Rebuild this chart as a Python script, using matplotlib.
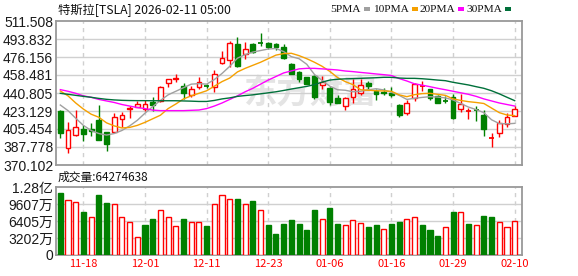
import numpy as np
import matplotlib
matplotlib.use('Agg')
import matplotlib.pyplot as plt
from matplotlib.patches import Rectangle

plt.rcParams['font.family'] = ['Liberation Sans', 'Noto Sans CJK SC', 'DejaVu Sans']

# ---------------- data ----------------
dates = ['11-13', '11-14', '11-17', '11-18', '11-19', '11-20', '11-21', '11-24', '11-25', '11-26',
         '11-28', '12-01', '12-02', '12-03', '12-04', '12-05', '12-08', '12-09', '12-10', '12-11',
         '12-12', '12-15', '12-16', '12-17', '12-18', '12-19', '12-22', '12-23', '12-24', '12-26',
         '12-29', '12-30', '12-31', '01-02', '01-05', '01-06', '01-07', '01-08', '01-09', '01-12',
         '01-13', '01-14', '01-15', '01-16', '01-20', '01-21', '01-22', '01-23', '01-26', '01-27',
         '01-28', '01-29', '01-30', '02-02', '02-03', '02-04', '02-05', '02-06', '02-09', '02-10']
tick_dates = ['11-18', '12-01', '12-11', '12-23', '01-06', '01-16', '01-29', '02-10']

opens = [423.5, 386.5, 399.3, 405.1, 405.8, 414.3, 402.2, 402.2, 415.0, 425.1,
         426.7, 425.4, 432.3, 433.0, 450.3, 454.2, 447.7, 438.9, 446.4, 447.7,
         447.0, 469.9, 473.2, 488.9, 478.8, 488.9, 489.9, 489.9, 488.9, 486.3,
         469.3, 461.8, 456.2, 457.5, 448.7, 446.1, 436.2, 428.1, 436.6, 441.1,
         451.0, 443.1, 441.8, 441.1, 429.0, 421.5, 435.6, 447.7, 444.4, 437.9,
         433.3, 436.6, 425.1, 423.2, 424.5, 419.2, 396.0, 401.2, 410.4, 418.6]
closes = [401.9, 404.5, 407.8, 400.9, 403.5, 394.7, 390.7, 416.9, 419.2, 426.4,
          430.2, 430.0, 429.4, 446.4, 454.2, 455.2, 440.5, 444.7, 451.6, 447.0,
          459.1, 474.8, 489.6, 467.7, 483.7, 481.4, 489.3, 486.3, 486.0, 474.8,
          459.5, 454.2, 449.3, 437.2, 451.9, 432.3, 431.3, 435.6, 444.7, 448.7,
          447.7, 439.8, 440.8, 438.5, 419.2, 430.7, 449.3, 448.4, 435.6, 431.3,
          432.6, 416.6, 429.7, 423.6, 424.0, 405.8, 396.6, 411.0, 416.9, 424.8]
highs = [424.1, 412.0, 424.1, 409.4, 411.0, 429.0, 402.5, 420.9, 422.5, 428.0,
         433.0, 433.9, 436.6, 447.7, 454.9, 459.5, 450.3, 448.0, 456.2, 449.3,
         463.4, 482.0, 492.2, 496.1, 491.2, 489.6, 499.4, 490.9, 490.2, 488.9,
         470.0, 462.1, 456.2, 458.5, 457.5, 447.0, 438.9, 437.2, 454.2, 454.2,
         452.6, 444.7, 445.4, 447.0, 429.7, 433.9, 450.3, 452.6, 445.1, 438.9,
         437.9, 439.8, 439.8, 425.8, 428.0, 424.1, 401.2, 414.3, 420.9, 428.0]
lows = [396.3, 382.2, 399.0, 394.0, 398.6, 394.7, 384.2, 402.2, 407.1, 416.6,
        426.7, 423.5, 423.5, 432.3, 446.4, 452.0, 434.9, 436.6, 444.4, 445.4,
        442.1, 469.0, 466.7, 466.7, 474.2, 480.4, 487.0, 483.7, 483.0, 473.9,
        459.5, 452.0, 449.3, 434.9, 444.7, 429.0, 430.7, 424.1, 430.7, 438.9,
        443.8, 433.9, 438.5, 436.6, 417.6, 419.2, 433.0, 443.1, 434.0, 431.3,
        430.7, 415.0, 422.5, 415.0, 413.6, 398.9, 387.5, 397.9, 407.8, 418.6]

ma5 = [429.0, 423.5, 416.0, 409.0, 404.0, 401.0, 399.5, 401.0, 404.0, 408.5,
       414.0, 421.0, 427.5, 433.5, 439.0, 442.5, 446.0, 449.5, 450.0, 449.5,
       454.0, 460.0, 467.0, 475.0, 478.5, 481.0, 482.5, 484.0, 484.5, 481.5,
       476.5, 474.5, 469.0, 459.0, 453.0, 447.5, 444.0, 443.5, 442.0, 442.5,
       444.0, 445.0, 443.8, 441.5, 438.5, 434.5, 435.6, 436.5, 437.2, 436.8,
       436.0, 434.0, 430.5, 427.0, 424.5, 421.5, 414.5, 410.8, 410.5, 411.0]
ma10 = [442.8, 438.0, 431.0, 425.0, 420.0, 417.0, 411.5, 408.5, 406.5, 407.0,
        409.0, 412.0, 415.5, 419.0, 425.5, 430.0, 435.0, 438.0, 440.5, 443.0,
        447.5, 452.0, 455.5, 461.5, 465.0, 468.0, 471.0, 474.5, 478.0, 479.5,
        479.8, 477.5, 474.5, 471.0, 467.0, 462.0, 456.0, 452.0, 449.0, 444.0,
        443.5, 443.0, 442.8, 442.5, 439.0, 437.2, 439.2, 440.2, 440.5, 439.5,
        438.5, 435.0, 433.5, 432.3, 431.5, 430.5, 426.0, 421.5, 419.2, 418.6]
ma20 = [444.1, 442.5, 440.5, 438.0, 436.6, 434.5, 433.0, 431.5, 429.5, 428.0,
        426.5, 425.5, 424.0, 423.5, 423.5, 423.5, 423.5, 423.8, 424.1, 425.5,
        428.0, 431.0, 434.5, 438.0, 442.0, 445.4, 449.5, 453.5, 457.0, 460.5,
        462.5, 464.5, 465.0, 465.0, 464.5, 464.0, 463.4, 462.4, 461.8, 461.0,
        460.3, 459.5, 458.8, 458.0, 455.0, 452.6, 449.8, 448.5, 447.0, 445.4,
        444.0, 442.5, 441.0, 439.5, 437.5, 435.0, 433.0, 431.0, 429.5, 428.0]
ma30 = [440.5, 439.5, 438.5, 437.5, 436.6, 435.5, 434.6, 434.0, 433.6, 433.4,
        433.3, 433.3, 433.2, 433.2, 433.2, 433.2, 433.0, 432.8, 432.5, 432.5,
        433.5, 435.0, 436.0, 437.5, 438.3, 439.0, 440.0, 441.0, 442.0, 443.3,
        444.7, 446.0, 447.3, 449.0, 451.5, 453.5, 454.3, 454.7, 454.9, 455.2,
        455.5, 455.8, 456.2, 456.2, 455.5, 455.2, 455.2, 454.8, 454.2, 453.5,
        452.9, 451.3, 450.0, 448.7, 447.0, 445.4, 443.0, 440.0, 436.6, 433.3]

# volume in 万 (10,000 shares)
volume_wan = [11712, 10370, 10004, 8052, 7076, 11346, 9882, 9516, 7076, 6161,
              3416, 5673, 6771, 8540, 7076, 5429, 6771, 6161, 6161, 5490,
              9516, 11285, 10553, 10614, 9516, 10248, 8540, 5673, 4026, 5856,
              6588, 5856, 4758, 8418, 6710, 8784, 5856, 5612, 6527, 6039,
              5307, 5673, 4941, 5856, 6222, 6710, 7076, 5673, 4758, 3660,
              5246, 8052, 8174, 5856, 5673, 7320, 7137, 6161, 5246, 6427.4638]

price_ticks = [370.102, 387.778, 405.454, 423.129, 440.805, 458.481, 476.156, 493.832, 511.508]
vol_ticks = [0, 3202.5, 6405, 9607.5, 12810]
vol_tick_labels = ['0', '3202万', '6405万', '9607万', '1.28亿']
title_text = '特斯拉[TSLA] 2026-02-11 05:00'
vol_title = '成交量:64274638'
ma_names = ['5PMA', '10PMA', '20PMA', '30PMA']

# ---------------- styles ----------------
RED = '#ff0000'
GREEN = '#008000'
MA_COLORS = ['#a0a0a0', '#f5a000', '#ff00ff', '#00703a']
GRID = '#d0d0d0'
FRAME = '#999999'

W, H = 578, 276
fig = plt.figure(figsize=(W / 100, H / 100), dpi=100)

def fx(px):
    return px / W

def fy(py):
    return 1 - py / H

axp = fig.add_axes([fx(56), fy(165), fx(522) - fx(56), fy(21) - fy(165)])
axv = fig.add_axes([fx(56), fy(255), fx(522) - fx(56), fy(187) - fy(255)])

n = len(dates)
x = np.arange(n)
o = np.array(opens); c = np.array(closes); h = np.array(highs); l = np.array(lows)
up = c >= o
cw = 0.62

# watermark
axp.text(0.545, 0.49, '东方财富', transform=axp.transAxes, fontsize=24,
         color='#e4e4e4', fontweight='bold', ha='center', va='center',
         family=['Noto Sans CJK SC'], zorder=0.5)

# candles
for i in range(n):
    col = RED if up[i] else GREEN
    axp.vlines(x[i], l[i], h[i], color=col, lw=1, zorder=2)
    if abs(c[i] - o[i]) < 0.8:
        axp.hlines((c[i] + o[i]) / 2, x[i] - cw / 2, x[i] + cw / 2, color=col, lw=1.3, zorder=3)
    else:
        b = min(o[i], c[i])
        axp.add_patch(Rectangle((x[i] - cw / 2, b), cw, abs(c[i] - o[i]),
                                facecolor='white' if up[i] else GREEN,
                                edgecolor=col, lw=1, zorder=3))

for ma, col in zip([ma5, ma10, ma20, ma30], MA_COLORS):
    axp.plot(x, ma, color=col, lw=1, zorder=4)

# volume
vol = np.array(volume_wan)
vup = np.concatenate([[up[0]], c[1:] >= c[:-1]])
for i in range(n):
    if vup[i]:
        axv.add_patch(Rectangle((x[i] - 0.33, 0), 0.66, vol[i], facecolor='white',
                                edgecolor=RED, lw=1, zorder=3))
    else:
        axv.add_patch(Rectangle((x[i] - 0.33, 0), 0.66, vol[i], facecolor=GREEN,
                                edgecolor=GREEN, lw=1, zorder=3))

tick_pos = [dates.index(d) for d in tick_dates]
for ax in (axp, axv):
    ax.set_xlim(-0.56, n - 1 + 0.95)
    ax.set_xticks(tick_pos)
    for p in tick_pos:
        ax.axvline(p, color=GRID, lw=1, ls=(0, (3, 3)), zorder=1)
    for s in ax.spines.values():
        s.set_color(FRAME)
        s.set_linewidth(1.3)
    ax.tick_params(length=0, pad=2)

axp.set_ylim(price_ticks[0], price_ticks[-1])
axp.set_yticks(price_ticks)
axp.set_yticklabels(['%.3f' % v for v in price_ticks], fontsize=10, color='#1a1a1a')
axp.set_xticklabels([])
for v in price_ticks[1:-1]:
    axp.axhline(v, color=GRID, lw=1, zorder=1)

axv.set_ylim(0, vol_ticks[-1])
axv.set_yticks(vol_ticks)
axv.set_yticklabels(vol_tick_labels, fontsize=10, color='#1a1a1a')
for v in vol_ticks[1:-1]:
    axv.axhline(v, color=GRID, lw=1, zorder=1)
axv.set_xticklabels(tick_dates, fontsize=8, color=RED, family=['Noto Sans CJK SC'])
axv.tick_params(axis='x', pad=3)

# titles
fig.text(fx(58), fy(10), title_text, fontsize=8.8, family=['Noto Sans CJK SC'],
         va='center', ha='left', color='#111111')
fig.text(fx(58), fy(177), vol_title, fontsize=8.5, family=['Noto Sans CJK SC'],
         va='center', ha='left', color='#111111')

# legend: coloured square after each label
leg_sq_right = [370, 418, 464, 511]
for name, col, sr in zip(ma_names, MA_COLORS, leg_sq_right):
    fig.text(fx(sr - 9), fy(9.5), name, fontsize=8.2, va='center', ha='right',
             family=['Liberation Serif'], color='#111111')
    fig.patches.append(Rectangle((fx(sr - 6), fy(11)), fx(6), fy(7) - fy(11),
                                 transform=fig.transFigure, facecolor=col,
                                 edgecolor='none'))

fig.savefig('out.png', dpi=100)
